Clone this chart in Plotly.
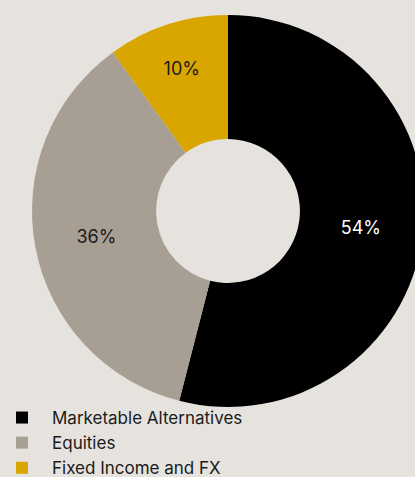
import plotly.graph_objects as go

labels = ["Marketable Alternatives", "Equities", "Fixed Income and FX"]
values = [54, 36, 10]
text_labels = ["54%", "36%", "10%"]
colors = ["#000000", "#a89f94", "#d9a500"]
text_colors = ["#ffffff", "#1a1a1a", "#1a1a1a"]

W, H = 424, 477
pie_left, pie_top, pie_size = 32, 15, 392

fig = go.Figure(go.Pie(
    labels=labels,
    values=values,
    text=text_labels,
    textinfo="text",
    textposition="inside",
    insidetextorientation="horizontal",
    insidetextfont=dict(color=text_colors, size=18, family="Inter"),
    marker=dict(colors=colors, line=dict(width=0)),
    hole=0.367,
    sort=False,
    direction="clockwise",
    rotation=0,
    hoverinfo="label+percent",
    domain=dict(
        x=[pie_left / W, (pie_left + pie_size) / W],
        y=[1 - (pie_top + pie_size) / H, 1 - pie_top / H],
    ),
))

fig.update_layout(
    width=W, height=H,
    margin=dict(l=0, r=0, t=0, b=0, autoexpand=False),
    paper_bgcolor="#e6e3df",
    plot_bgcolor="#e6e3df",
    showlegend=True,
    legend=dict(
        x=-8 / W, y=-9 / H,
        xanchor="left", yanchor="bottom",
        font=dict(family="Inter", size=17, color="#1a1a1a"),
        bgcolor="rgba(0,0,0,0)",
        itemwidth=50,
        tracegroupgap=0,
    ),
)

fig.write_html("out.html")
